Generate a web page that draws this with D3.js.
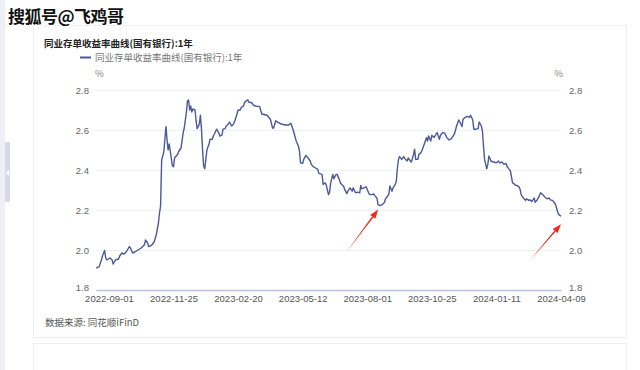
<!DOCTYPE html>
<html>
<head>
<meta charset="utf-8">
<script src="https://cdn.jsdelivr.net/npm/d3@7"></script>
<style>
    body { margin: 0; background: #fff; }
    svg { display: block; font-family: "Noto Sans CJK SC", "Noto Sans", sans-serif; }
</style>
</head>
<body>
<svg id="chart"></svg>
<script>
// trading-day index (0 = first day of the series) and the yield
const days = [0, 3, 5, 6, 8, 9, 10, 13, 15, 16, 18, 21, 22, 24, 26, 28, 31, 32, 34, 36, 39, 42, 45, 46, 48, 49, 52, 54, 56, 58, 59, 60,
    61, 63, 64, 65, 66, 67, 68, 69, 71, 72, 73, 76, 77, 79, 81, 82, 84, 85, 86, 87, 88, 89, 90, 92, 93, 94, 96, 97, 98, 99, 100,
    101, 102, 103, 105, 106, 108, 109, 110, 112, 114, 115, 117, 118, 120, 121, 123, 124, 126, 128, 129, 131, 132, 134, 135, 137, 138,
    141, 142, 145, 146, 149, 152, 154, 159, 162, 164, 165, 167, 169, 172, 176, 179, 181, 183, 186, 188, 189, 190, 192, 193, 195, 197,
    199, 200, 202, 204, 206, 207, 210, 211, 213, 214, 216, 217, 218, 220, 221, 223, 224, 226, 227, 229, 230, 231, 233, 234, 236, 238,
    239, 241, 243, 245, 246, 247, 249, 251, 252, 254, 256, 258, 259, 261, 262, 264, 266, 268, 269, 272, 273, 275, 276, 278, 279, 280,
    281, 282, 284, 286, 287, 289, 290, 292, 293, 295, 296, 297, 299, 300, 302, 303, 305, 307, 308, 309, 311, 312, 314, 316, 317, 319,
    320, 322, 324, 326, 328, 330, 333, 335, 337, 339, 340, 341, 343, 345, 347, 348, 350, 351, 353, 355, 356, 358, 359, 360, 361, 363,
    364, 365, 367, 369, 372, 374, 375, 377, 379, 381, 382, 384, 385, 387, 388, 390, 391, 393, 394, 395, 397, 399, 400, 402, 403, 405,
    407, 408, 410, 412, 413, 415, 417, 419, 421, 422, 424, 426, 427, 429, 430, 432];
const rates = [1.909, 1.917, 1.95, 1.97, 1.998, 1.96, 1.95, 1.96, 1.95, 1.93, 1.95, 1.955, 1.97, 1.985, 1.98, 1.99, 2.017, 2.01, 1.985, 1.99, 2.0, 2.01, 2.026, 2.05, 2.035, 2.017, 2.026, 2.04, 2.076, 2.135, 2.185, 2.22,
    2.45, 2.49, 2.554, 2.617, 2.55, 2.50, 2.53, 2.495, 2.42, 2.416, 2.46, 2.48, 2.495, 2.51, 2.587, 2.61, 2.69, 2.746, 2.75, 2.70, 2.72, 2.69, 2.705, 2.70, 2.646, 2.607, 2.63, 2.674, 2.604, 2.50, 2.42,
    2.406, 2.45, 2.50, 2.53, 2.554, 2.554, 2.57, 2.58, 2.604, 2.587, 2.57, 2.574, 2.604, 2.607, 2.62, 2.63, 2.64, 2.62, 2.632, 2.646, 2.68, 2.70, 2.70, 2.713, 2.72, 2.738,
    2.751, 2.74, 2.735, 2.725, 2.718, 2.718, 2.68, 2.674, 2.654, 2.61, 2.61, 2.646, 2.638, 2.63, 2.625, 2.625, 2.634, 2.604, 2.545, 2.52, 2.495, 2.436, 2.433, 2.453, 2.473, 2.46,
    2.445, 2.428, 2.416, 2.41, 2.403, 2.383, 2.378, 2.328, 2.336, 2.323, 2.277, 2.289, 2.336, 2.378, 2.356, 2.378, 2.378, 2.353, 2.336, 2.323, 2.32, 2.303, 2.282, 2.294, 2.311, 2.294,
    2.311, 2.286, 2.289, 2.286, 2.323, 2.306, 2.311, 2.316, 2.303, 2.277, 2.277, 2.28, 2.272, 2.26, 2.227, 2.222, 2.227, 2.239, 2.256, 2.277, 2.32, 2.294, 2.311, 2.328, 2.345, 2.41,
    2.453, 2.467, 2.453, 2.467, 2.457, 2.445, 2.46, 2.445, 2.44, 2.478, 2.504, 2.453, 2.453, 2.478, 2.487, 2.50, 2.53, 2.562, 2.545, 2.57, 2.545, 2.574, 2.562, 2.58, 2.587, 2.554,
    2.574, 2.587, 2.584, 2.562, 2.55, 2.556, 2.58, 2.62, 2.65, 2.63, 2.617, 2.654, 2.663, 2.668, 2.663, 2.674, 2.65, 2.604, 2.604, 2.607, 2.64, 2.62, 2.595, 2.52, 2.453, 2.406,
    2.428, 2.47, 2.445, 2.44, 2.436, 2.445, 2.436, 2.44, 2.428, 2.433, 2.416, 2.403, 2.395, 2.336, 2.333, 2.323, 2.323, 2.316, 2.303, 2.277, 2.26, 2.248, 2.256, 2.248, 2.251, 2.243,
    2.26, 2.239, 2.251, 2.272, 2.286, 2.277, 2.265, 2.256, 2.26, 2.251, 2.248, 2.235, 2.227, 2.189, 2.177, 2.169];

const tickDays = [12, 72, 132, 192, 252, 312, 372, 432];
const tickLabels = ["2022-09-01", "2022-11-25", "2023-02-20", "2023-05-12", "2023-08-01", "2023-10-25", "2024-01-11", "2024-04-09"];
const yTicks = [1.8, 2.0, 2.2, 2.4, 2.6, 2.8];

const seriesName = "同业存单收益率曲线(国有银行):1年";
const watermark = "搜狐号@飞鸡哥";
const sourceText = "数据来源: 同花顺iFinD";

class RateChart {
    constructor(_config) {
        this.config = {
            parentElement: _config.parentElement,
            containerWidth: _config.containerWidth || 640,
            containerHeight: _config.containerHeight || 370,
        }
        this.config.margin = _config.margin || { top: 90, bottom: 80, right: 79, left: 96 }
        this.initVis();
    }

    initVis() {
        let vis = this;
        let m = vis.config.margin;

        vis.width = vis.config.containerWidth - m.left - m.right;
        vis.height = vis.config.containerHeight - m.top - m.bottom;

        vis.svg = d3.select(vis.config.parentElement)
            .attr("width", vis.config.containerWidth)
            .attr("height", vis.config.containerHeight);

        // page furniture: side strip, collapse tab, cards
        vis.svg.append("rect").attr("x", 0).attr("y", 0).attr("width", 5).attr("height", vis.config.containerHeight).attr("fill", "#eef0f6");
        vis.svg.append("rect").attr("x", 5).attr("y", 142).attr("width", 5).attr("height", 60).attr("fill", "#d6d9e9");
        vis.svg.append("path").attr("d", "M6,173 L9,170 L9,176 Z").attr("fill", "#fff");
        vis.svg.append("line").attr("x1", 5).attr("x2", 33).attr("y1", 25.5).attr("y2", 25.5).attr("stroke", "#eef0f4");
        vis.svg.append("rect").attr("x", 33.5).attr("y", 25.5).attr("width", 593).attr("height", 312)
            .attr("fill", "#fff").attr("stroke", "#eceef3");
        vis.svg.append("rect").attr("x", 33.5).attr("y", 343.5).attr("width", 593).attr("height", 40)
            .attr("fill", "#fff").attr("stroke", "#eceef3");

        vis.chart = vis.svg.append("g").attr("transform", `translate(${m.left},${m.top})`);

        vis.xScale = d3.scaleLinear().domain([0, 432]).range([0, vis.width]);
        vis.yScale = d3.scaleLinear().domain([1.8, 2.8]).range([vis.height, 0]);

        vis.gridG = vis.chart.append("g");
        vis.rightG = vis.chart.append("g").attr("transform", `translate(${vis.width},0)`);
        vis.xAxisG = vis.chart.append("g").attr("transform", `translate(0,${vis.height})`);
        vis.lineG = vis.chart.append("g");
        vis.noteG = vis.chart.append("g");

        // titles and legend
        vis.svg.append("text")
            .attr("x", 44).attr("y", 46.5)
            .attr("font-size", 9.5).attr("font-weight", "bold").attr("fill", "#222")
            .text(seriesName);
        vis.svg.append("line")
            .attr("x1", 80).attr("x2", 91).attr("y1", 57.5).attr("y2", 57.5)
            .attr("stroke", "#4b5899").attr("stroke-width", 2);
        vis.svg.append("text")
            .attr("x", 95).attr("y", 60.8)
            .attr("font-size", 9.5).attr("fill", "#777")
            .text(seriesName);
        vis.svg.append("text").attr("x", 95).attr("y", 76.5)
            .attr("font-size", 9.5).attr("fill", "#888").text("%");
        vis.svg.append("text").attr("x", 563).attr("y", 76.5).attr("text-anchor", "end")
            .attr("font-size", 9.5).attr("fill", "#888").text("%");

        vis.svg.append("text")
            .attr("x", 45).attr("y", 326)
            .attr("font-size", 9.5).attr("fill", "#555")
            .text(sourceText);

        vis.svg.append("text")
            .attr("x", 8).attr("y", 23)
            .attr("font-size", 17).attr("font-weight", "bold").attr("fill", "#111")
            .attr("stroke", "#fff").attr("stroke-width", 2.5).attr("paint-order", "stroke")
            .attr("letter-spacing", -0.5)
            .text(watermark);
    }

    update() {
        let vis = this;
        vis.data = days.map((d, i) => ({ day: d, rate: rates[i] }));

        vis.yAxis = d3.axisLeft(vis.yScale)
            .tickValues(yTicks)
            .tickFormat(d3.format(".1f"))
            .tickSize(-vis.width)
            .tickPadding(7);
        vis.yAxisRight = d3.axisRight(vis.yScale)
            .tickValues(yTicks)
            .tickFormat(d3.format(".1f"))
            .tickSize(0)
            .tickPadding(8);
        vis.xAxis = d3.axisBottom(vis.xScale)
            .tickValues(tickDays)
            .tickFormat((d, i) => tickLabels[i])
            .tickSize(0)
            .tickPadding(5);

        vis.render();
    }

    render() {
        let vis = this;

        vis.gridG.call(vis.yAxis)
            .call(g => g.select(".domain").remove())
            .call(g => g.selectAll("line").attr("stroke", "#eef0f6"))
            .call(g => g.selectAll("text").attr("fill", "#666").attr("font-size", 9.5).attr("font-family", null));
        // the bottom labels sit a touch higher than the gridline
        vis.gridG.selectAll(".tick").filter(d => d === 1.8).select("text").attr("dy", "0.1em");

        vis.rightG.call(vis.yAxisRight)
            .call(g => g.select(".domain").remove())
            .call(g => g.selectAll("text").attr("fill", "#666").attr("font-size", 9.5).attr("font-family", null));
        vis.rightG.selectAll(".tick").filter(d => d === 1.8).select("text").attr("dy", "0.1em");

        vis.xAxisG.call(vis.xAxis)
            .call(g => g.select(".domain").attr("stroke", "#bac1dc").attr("stroke-width", 1.5))
            .call(g => g.selectAll("text").attr("fill", "#555").attr("font-size", 9.5).attr("font-family", null));

        vis.lineG.append("path")
            .datum(vis.data)
            .attr("fill", "none")
            .attr("stroke", "#4b5899")
            .attr("stroke-width", 1.4)
            .attr("stroke-linejoin", "round")
            .attr("d", d3.line()
                .x(d => vis.xScale(d.day))
                .y(d => vis.yScale(d.rate)));

        // red arrows pointing at the two lows
        let notes = [
            { day: 264, rate: 2.222, dx: -2, dy: 4, tx: -32, ty: 43 },
            { day: 432, rate: 2.169, dx: 0, dy: 8, tx: -31, ty: 36 },
        ];
        notes.forEach(n => {
            let x = vis.xScale(n.day) + n.dx;
            let y = vis.yScale(n.rate) + n.dy;
            let ang = Math.atan2(-n.ty, -n.tx);
            let ux = Math.cos(ang), uy = Math.sin(ang);
            let hl = 9, hw = 3.2;
            let bx = x - ux * hl, by = y - uy * hl;
            vis.noteG.append("path")
                .attr("d", `M${x + n.tx},${y + n.ty} L${bx - uy * 0.8},${by + ux * 0.8} L${bx + uy * 0.8},${by - ux * 0.8} Z`)
                .attr("fill", "#f5261b");
            vis.noteG.append("path")
                .attr("d", `M${x},${y} L${bx - uy * hw},${by + ux * hw} L${bx + uy * hw},${by - ux * hw} Z`)
                .attr("fill", "#f5261b");
        });
    }
}

let chart = new RateChart({ parentElement: "#chart" });
chart.update();
</script>
</body>
</html>
